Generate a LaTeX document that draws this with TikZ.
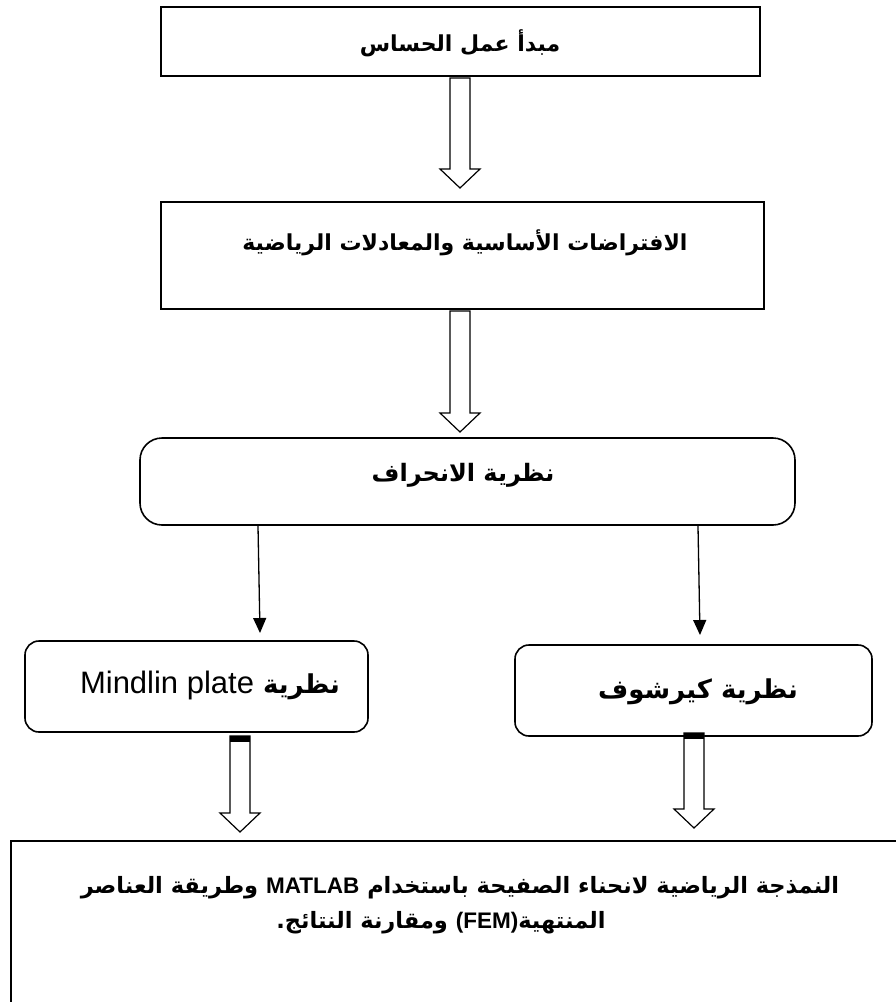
\documentclass[tikz,border=0pt]{standalone}
\usepackage{fontspec}
\usetikzlibrary{arrows.meta,calc}
\TeXXeTstate=1
\newfontfamily\arabicfont[Script=Arabic]{DejaVu Sans}
\newfontfamily\latinfont{Liberation Sans}
\newcommand\hollowarrow[2]{%
  \draw[harrow] let \p1=#1, \p2=#2 in
   (\x1-10pt,\y1) -- (\x1-10pt,\y2+19pt) -- (\x1-20pt,\y2+19pt) -- (\x1,\y2)
   -- (\x1+20pt,\y2+19pt) -- (\x1+10pt,\y2+19pt) -- (\x1+10pt,\y1) -- cycle;}
\newcommand\arrowcap[1]{%
  \fill let \p1=#1 in (\x1-10pt,\y1) rectangle (\x1+10pt,\y1-6pt);}
\begin{document}
\begin{tikzpicture}[x=1pt,y=-1pt,
  box/.style={draw, line width=2pt, inner sep=0pt},
  rbox/.style={draw, line width=1.6pt, inner sep=0pt},
  txt/.style={inner sep=0pt, font=\fontsize{22}{26}\selectfont\arabicfont\bfseries},
  midtxt/.style={inner sep=0pt, font=\fontsize{24}{28}\selectfont\arabicfont\bfseries},
  bigtxt/.style={inner sep=0pt, font=\fontsize{26}{32}\selectfont\arabicfont\bfseries},
  restxt/.style={inner sep=0pt, font=\fontsize{22.5}{27}\selectfont\arabicfont\bfseries},
  harrow/.style={draw, line width=1.2pt, fill=white, line join=miter},
  thinarrow/.style={line width=1.3pt, -{Triangle[length=15pt,width=13pt]}}]
\useasboundingbox (0,0) rectangle (896,1002);
% boxes
\node[box, minimum width=599, minimum height=69] (b1) at (460.5,41.5) {};
\node[box, minimum width=603, minimum height=107] (b2) at (462.5,255.5) {};
\node[rbox, rounded corners=22pt, minimum width=655, minimum height=87] (dev) at (467.5,481.5) {};
\node[rbox, rounded corners=14pt, minimum width=343, minimum height=91] (mind) at (196.5,686.5) {};
\node[rbox, rounded corners=14pt, minimum width=357, minimum height=91] (kirch) at (693.5,690.5) {};
\node[box, minimum width=900, minimum height=190, anchor=north west] (res) at (10,840) {};
% texts
\node[txt] (t1) at (460,43) {\beginR مبدأ عمل الحساس\endR};
\node[txt] (t2) at (465,243) {\beginR الافتراضات الأساسية والمعادلات الرياضية\endR};
\node[midtxt] (t3) at (463,475) {\beginR نظرية الانحراف\endR};
\node[bigtxt] (t4) at (210,685) {\beginR نظرية \beginL{\latinfont\mdseries\fontsize{31}{36}\selectfont Mindlin plate}\endL\endR};
\node[bigtxt] (t5) at (698,692) {\beginR نظرية كيرشوف\endR};
\node[restxt] (t6) at (460,888) {\beginR النمذجة الرياضية لانحناء الصفيحة باستخدام \beginL{\latinfont MATLAB}\endL{} وطريقة العناصر\endR};
\node[restxt] (t7) at (441,923) {\beginR المنتهية\beginL{\latinfont (FEM)}\endL{} ومقارنة النتائج.\endR};
% hollow arrows
\coordinate (h1s) at (460,78);  \coordinate (h1e) at (460,188);
\coordinate (h2s) at (460,311); \coordinate (h2e) at (460,432);
\coordinate (h3s) at (240,736); \coordinate (h3e) at (240,832);
\coordinate (h4s) at (694,733); \coordinate (h4e) at (694,828);
\hollowarrow{(h1s)}{(h1e)}
\hollowarrow{(h2s)}{(h2e)}
\hollowarrow{(h3s)}{(h3e)}
\hollowarrow{(h4s)}{(h4e)}
\arrowcap{(h3s)}
\arrowcap{(h4s)}
% thin arrows
\coordinate (l1s) at (258,526); \coordinate (l1e) at (260,633);
\coordinate (l2s) at (698,526); \coordinate (l2e) at (700,635);
\draw[thinarrow] (l1s) -- (l1e);
\draw[thinarrow] (l2s) -- (l2e);
\end{tikzpicture}
\end{document}
